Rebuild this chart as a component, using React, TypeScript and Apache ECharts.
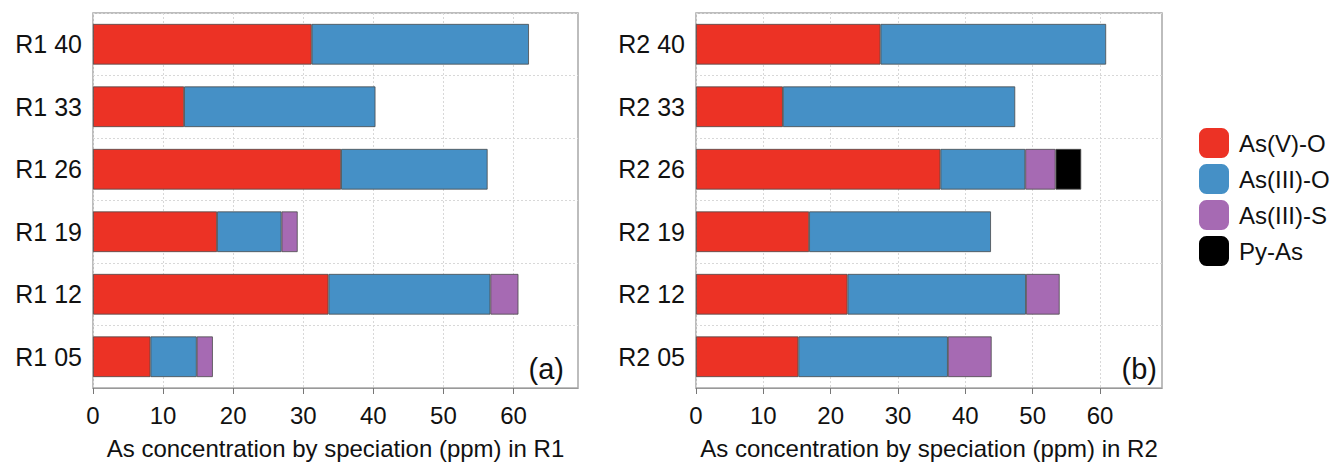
import React, { useEffect, useRef } from "react";
import * as echarts from "echarts";

const categoriesR1 = ["R1 05", "R1 12", "R1 19", "R1 26", "R1 33", "R1 40"];
const categoriesR2 = ["R2 05", "R2 12", "R2 19", "R2 26", "R2 33", "R2 40"];
const speciesNames = ["As(V)-O", "As(III)-O", "As(III)-S", "Py-As"];
const speciesColors = ["#EC3225", "#4590C6", "#A66AB3", "#000000"];

// R1 segment lengths (ppm), bottom to top
const r1AsVO = [8.2, 33.6, 17.7, 35.4, 13.0, 31.2];
const r1AsIIIO = [6.6, 23.1, 9.2, 20.9, 27.3, 31.0];
const r1AsIIIS = [2.3, 4.0, 2.3, null, null, null];
const r1PyAs = [null, null, null, null, null, null];

// R2 segment lengths (ppm), bottom to top
const r2AsVO = [15.2, 22.5, 16.8, 36.3, 12.9, 27.4];
const r2AsIIIO = [22.2, 26.5, 27.0, 12.6, 34.5, 33.5];
const r2AsIIIS = [6.5, 5.0, null, 4.5, null, null];
const r2PyAs = [null, null, null, 3.8, null, null];

const xTicks = [0, 10, 20, 30, 40, 50, 60];
const xMax = 69.2;
const panelLabels = ["(a)", "(b)"];
const axisTitles = [
  "As concentration by speciation (ppm) in R1",
  "As concentration by speciation (ppm) in R2",
];

const FONT = "'Liberation Sans', Arial, Helvetica, sans-serif";

export default function App() {
  const ref = useRef<HTMLDivElement>(null);
  useEffect(() => {
    document.body.style.margin = "0";
    const chart = echarts.init(ref.current!, null, { renderer: "svg" });
    const r1 = [r1AsVO, r1AsIIIO, r1AsIIIS, r1PyAs];
    const r2 = [r2AsVO, r2AsIIIO, r2AsIIIS, r2PyAs];
    const mkSeries = (data: any[], gi: number) =>
      data.map((d, i) => ({
        name: speciesNames[i],
        type: "bar",
        stack: "g" + gi,
        xAxisIndex: gi,
        yAxisIndex: gi,
        barCategoryGap: "35%",
        data: d,
        itemStyle: {
          color: speciesColors[i],
          borderColor: "#4a4a4a",
          borderWidth: 0.8,
        },
      }));
    const xAxisCfg = (gi: number) => ({
      type: "value",
      gridIndex: gi,
      min: 0,
      max: xMax,
      interval: 10,
      name: axisTitles[gi],
      nameLocation: "middle",
      nameGap: 48,
      nameTextStyle: { fontSize: 24, color: "#111", fontFamily: FONT },
      axisLine: { show: true, lineStyle: { color: "#999", width: 1 } },
      axisTick: {
        show: true,
        length: 6,
        customValues: xTicks,
        lineStyle: { color: "#777" },
      },
      axisLabel: {
        customValues: xTicks,
        fontSize: 24,
        color: "#111",
        fontFamily: FONT,
        margin: 15,
      },
      splitLine: {
        show: true,
        lineStyle: { color: "#d8d8d8", type: [2, 2], width: 1 },
      },
    });
    const yAxisCfg = (gi: number, cats: string[]) => ({
      type: "category",
      gridIndex: gi,
      data: cats,
      axisLine: { show: false },
      axisTick: { show: false },
      axisLabel: {
        fontSize: 25,
        color: "#111",
        fontFamily: FONT,
        margin: 11,
      },
      splitLine: {
        show: true,
        lineStyle: { color: "#d8d8d8", type: [2, 2], width: 1 },
      },
    });
    chart.setOption({
      animation: false,
      backgroundColor: "#fff",
      grid: [
        {
          left: 93,
          width: 485,
          top: 13,
          height: 376,
          show: true,
          borderColor: "#a8a8a8",
          borderWidth: 1.5,
          containLabel: false,
        },
        {
          left: 696,
          width: 466,
          top: 13,
          height: 376,
          show: true,
          borderColor: "#a8a8a8",
          borderWidth: 1.5,
          containLabel: false,
        },
      ],
      xAxis: [xAxisCfg(0), xAxisCfg(1)],
      yAxis: [yAxisCfg(0, categoriesR1), yAxisCfg(1, categoriesR2)],
      legend: {
        data: speciesNames,
        orient: "vertical",
        left: 1194,
        top: 123,
        itemWidth: 30,
        itemHeight: 30,
        itemGap: 6,
        icon: "roundRect",
        itemStyle: { borderWidth: 0 },
        textStyle: {
          fontSize: 24,
          color: "#111",
          fontFamily: FONT,
          padding: [0, 0, 0, 5],
        },
      },
      graphic: [
        {
          type: "text",
          x: 564,
          y: 369,
          style: {
            text: panelLabels[0],
            fontSize: 29,
            fontFamily: FONT,
            fill: "#111",
            align: "right",
            verticalAlign: "middle",
          },
        },
        {
          type: "text",
          x: 1157,
          y: 369,
          style: {
            text: panelLabels[1],
            fontSize: 29,
            fontFamily: FONT,
            fill: "#111",
            align: "right",
            verticalAlign: "middle",
          },
        },
      ],
      series: [...mkSeries(r1, 0), ...mkSeries(r2, 1)],
    });
    return () => chart.dispose();
  }, []);
  return (
    <div
      ref={ref}
      style={{ position: "absolute", left: 0, top: 0, width: 1335, height: 465 }}
    />
  );
}
